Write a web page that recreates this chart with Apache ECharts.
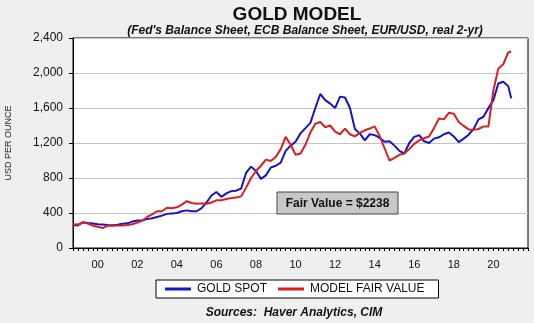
<!DOCTYPE html>
<html>
<head>
<meta charset="utf-8">
<script src="https://cdn.jsdelivr.net/npm/echarts@6/dist/echarts.min.js"></script>
<style>
  html, body { margin: 0; padding: 0; background: #efefef; }
  #chart { width: 534px; height: 323px; }
</style>
</head>
<body>
<div id="chart"></div>
<script>
// Quarterly observations starting 1999 Q2 (decimal year 1999.25), last point ~2021.4
const firstDate = 1999.25;
const quarterStep = 0.25;
const lastDate = 2021.4;

const goldSpot = [
  262, 258, 295, 285, 280, 272, 268, 262, 260, 266,
  278, 282, 302, 315, 318, 330, 340, 355, 370, 390,
  395, 400, 420, 430, 420, 420, 455, 520, 600, 640,
  585, 625, 650, 655, 680, 860, 930, 880, 790, 830,
  920, 940, 975, 1110, 1170, 1215, 1310, 1370, 1430, 1600,
  1760, 1690, 1650, 1600, 1730, 1720, 1600, 1360, 1310, 1230,
  1300, 1290, 1260, 1215, 1220, 1170, 1110, 1080, 1200, 1270,
  1290, 1220, 1200, 1250, 1265, 1300, 1320, 1275, 1210, 1250,
  1295, 1360, 1470, 1500, 1600, 1690, 1880, 1900, 1850, 1711
];

const modelFairValue = [
  272, 268, 290, 280, 255, 242, 228, 255, 255, 258,
  258, 262, 272, 290, 312, 355, 385, 420, 420, 460,
  455, 465, 495, 535, 515, 505, 510, 505, 520, 545,
  545, 560, 570, 578, 590, 690, 800, 880, 940, 1010,
  995, 1040, 1130, 1270, 1180, 1065, 1080, 1180, 1320, 1420,
  1440, 1380, 1400, 1330, 1300, 1365, 1300, 1275, 1315, 1345,
  1365, 1390, 1280, 1140, 1000, 1030, 1065, 1080, 1130, 1190,
  1230, 1255, 1275, 1370, 1480, 1470, 1545, 1535, 1440, 1395,
  1355, 1350, 1360, 1390, 1390, 1800, 2050, 2100, 2235, 2245
];

const seriesNames = ['GOLD SPOT', 'MODEL FAIR VALUE'];
const yTicks = [0, 400, 800, 1200, 1600, 2000, 2400];
const xLabelYears = [2000, 2002, 2004, 2006, 2008, 2010, 2012, 2014, 2016, 2018, 2020];
const titleText = 'GOLD MODEL';
const subtitleText = "(Fed's Balance Sheet, ECB Balance Sheet, EUR/USD, real 2-yr)";
const yAxisTitle = 'USD PER OUNCE';
const sourceText = 'Sources:  Haver Analytics, CIM';
const fairValueText = 'Fair Value = $2238';

const dates = [];
for (let i = 0; i < goldSpot.length - 1; i++) dates.push(firstDate + i * quarterStep);
dates.push(lastDate);

const goldData = dates.map((d, i) => [d, goldSpot[i]]);
const modelData = dates.map((d, i) => [d, modelFairValue[i]]);

const FONT = 'Liberation Sans, Arial, sans-serif';

const chart = echarts.init(document.getElementById('chart'), null, { renderer: 'canvas' });
chart.setOption({
  animation: false,
  backgroundColor: '#efefef',
  grid: {
    left: 73, right: 6, top: 38, bottom: 75,
    containLabel: false, outerBoundsMode: 'none',
    show: true, backgroundColor: '#ffffff', borderColor: '#000000', borderWidth: 1
  },
  xAxis: {
    type: 'value',
    min: 1999.25, max: 2022.25, interval: 0.25,
    axisLine: { show: true, lineStyle: { color: '#000', width: 1 } },
    axisTick: { show: true, length: 3, lineStyle: { color: '#000' } },
    splitLine: { show: false },
    axisLabel: {
      margin: 11, fontSize: 11, color: '#111', fontFamily: FONT,
      showMinLabel: true, showMaxLabel: true,
      formatter: function (v) {
        const y = v - 0.5;
        const r = Math.round(y);
        if (Math.abs(y - r) < 1e-6 && xLabelYears.indexOf(r) >= 0) {
          return String(r % 100).padStart(2, '0');
        }
        return '';
      }
    }
  },
  yAxis: {
    type: 'value',
    min: yTicks[0], max: yTicks[yTicks.length - 1], interval: 400,
    name: yAxisTitle, nameLocation: 'middle', nameGap: 60,
    nameTextStyle: { fontSize: 9, color: '#222', fontFamily: FONT },
    axisLine: { show: true, lineStyle: { color: '#000', width: 1 } },
    axisTick: { show: true, length: 4, lineStyle: { color: '#000' } },
    splitLine: { show: true, lineStyle: { color: '#c4c4c4', width: 1 } },
    axisLabel: {
      margin: 10, fontSize: 12, color: '#111', fontFamily: FONT,
      formatter: v => v.toLocaleString('en-US')
    }
  },
  legend: {
    data: seriesNames,
    left: 156, top: 280,
    orient: 'horizontal',
    icon: 'rect', itemWidth: 26, itemHeight: 3, itemGap: 11,
    padding: [3, 14, 3, 9],
    borderColor: '#000', borderWidth: 1, backgroundColor: '#ffffff',
    textStyle: { fontSize: 12, color: '#111', fontFamily: FONT, padding: [0, 0, 0, 1] }
  },
  graphic: [
    { type: 'text', x: 297, y: 15,
      style: { text: titleText, font: 'bold 19px ' + FONT, fill: '#111', textAlign: 'center', textVerticalAlign: 'middle' } },
    { type: 'text', x: 305, y: 31,
      style: { text: subtitleText, font: 'italic bold 12px ' + FONT, fill: '#111', textAlign: 'center', textVerticalAlign: 'middle' } },
    { type: 'text', x: 294, y: 313,
      style: { text: sourceText, font: 'italic bold 12px ' + FONT, fill: '#111', textAlign: 'center', textVerticalAlign: 'middle' } },
    { type: 'rect', shape: { x: 277, y: 192, width: 121, height: 22 },
      style: { fill: '#c8c8c8', stroke: '#444', lineWidth: 1 }, z: 100 },
    { type: 'text', x: 337.5, y: 203.5, z: 101,
      style: { text: fairValueText, font: 'bold 12px ' + FONT, fill: '#111', textAlign: 'center', textVerticalAlign: 'middle' } }
  ],
  series: [
    { name: seriesNames[0], type: 'line', data: goldData, showSymbol: false,
      color: '#1414c8', lineStyle: { width: 2, color: '#1414c8' } },
    { name: seriesNames[1], type: 'line', data: modelData, showSymbol: false,
      color: '#dc1e1e', lineStyle: { width: 2, color: '#dc1e1e' } }
  ]
});
</script>
</body>
</html>
